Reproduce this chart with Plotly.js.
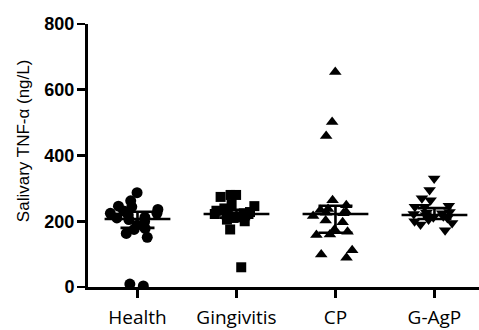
<!DOCTYPE html>
<html>
<head>
<meta charset="utf-8">
<script src="https://cdn.plot.ly/plotly-3.0.1.min.js"></script>
<style>html,body{margin:0;padding:0;background:#fff;}#chart{width:479px;height:330px;}</style>
</head>
<body>
<div id="chart"></div>
<script>
// Groups (x-axis categories)
const categories = ["Health", "Gingivitis", "CP", "G-AgP"];

// Salivary TNF-α values (ng/L)
const health = [287, 262, 244, 231, 246, 236, 199, 178, 163, 151, 175, 188, 3, 9, 219, 224, 224, 210, 205, 212];
const gingivitis = [280, 252, 274, 280, 246, 239, 175, 60, 224, 222, 226, 220, 215, 210, 205, 200, 212, 218, 228, 232];
const cp = [654, 502, 459, 264, 249, 234, 237, 202, 197, 175, 168, 158, 160, 112, 89, 99, 224, 216, 226, 229];
const gagp = [330, 295, 270, 264, 247, 244, 244, 173, 224, 222, 226, 218, 215, 210, 205, 200, 195, 190, 212, 228];

// Median and interquartile range bars
const medians = [207, 222, 222, 219];
const q1 = [180, 211, 165, 207];
const q3 = [229, 235, 247, 240];

const yTicks = [0, 200, 400, 600, 800];

const groups = [health, gingivitis, cp, gagp];
const symbols = ["circle", "square", "triangle-up", "triangle-down"];
const sizes = [11, 10, 11, 11];

const traces = groups.map((vals, i) => ({
  type: "box",
  x: vals.map(() => categories[i]),
  y: vals,
  boxpoints: "all",
  jitter: 1,
  pointpos: 0,
  width: 0.62,
  line: { width: 0, color: "rgba(0,0,0,0)" },
  fillcolor: "rgba(0,0,0,0)",
  marker: { symbol: symbols[i], size: sizes[i], color: "#000", line: { width: 0 } },
  hoverinfo: "y",
  showlegend: false
}));

traces.push({
  type: "scatter",
  mode: "markers",
  x: categories,
  y: medians,
  marker: { symbol: "line-ew", size: 47, color: "#000", line: { width: 2.6, color: "#000" } },
  error_y: {
    type: "data",
    symmetric: false,
    array: q3.map((v, i) => v - medians[i]),
    arrayminus: medians.map((v, i) => v - q1[i]),
    color: "#000",
    thickness: 2.6,
    width: 17
  },
  showlegend: false,
  hoverinfo: "skip"
});

const layout = {
  width: 479,
  height: 330,
  margin: { l: 88, r: 0, t: 24, b: 43 },
  paper_bgcolor: "#fff",
  plot_bgcolor: "#fff",
  showlegend: false,
  boxmode: "overlay",
  xaxis: {
    type: "category",
    categoryorder: "array",
    categoryarray: categories,
    range: [-0.5, 3.45],
    showline: true,
    linecolor: "#000",
    linewidth: 3,
    ticks: "outside",
    ticklen: 8,
    tickwidth: 2.6,
    tickcolor: "#000",
    showgrid: false,
    zeroline: false,
    ticklabelstandoff: 3,
    tickfont: { family: "Open Sans, Noto Sans, sans-serif", size: 19, color: "#000" }
  },
  yaxis: {
    range: [0, 800],
    tickvals: yTicks,
    ticktext: yTicks.map(String),
    showline: true,
    linecolor: "#000",
    linewidth: 3,
    ticks: "outside",
    ticklen: 8,
    tickwidth: 2.6,
    tickcolor: "#000",
    showgrid: false,
    zeroline: false,
    ticklabelstandoff: -1,
    tickfont: { family: "Arial, Liberation Sans, sans-serif", size: 18, color: "#000", weight: "bold" }
  },
  annotations: [{
    text: "Salivary TNF-α (ng/L)",
    xref: "paper", yref: "paper",
    x: -0.166, y: 0.555,
    xanchor: "center", yanchor: "middle",
    textangle: -90,
    showarrow: false,
    font: { family: "Arial, Liberation Sans, sans-serif", size: 17, color: "#000" }
  }]
};

Plotly.newPlot("chart", traces, layout, { displayModeBar: false, staticPlot: true });
</script>
</body>
</html>
